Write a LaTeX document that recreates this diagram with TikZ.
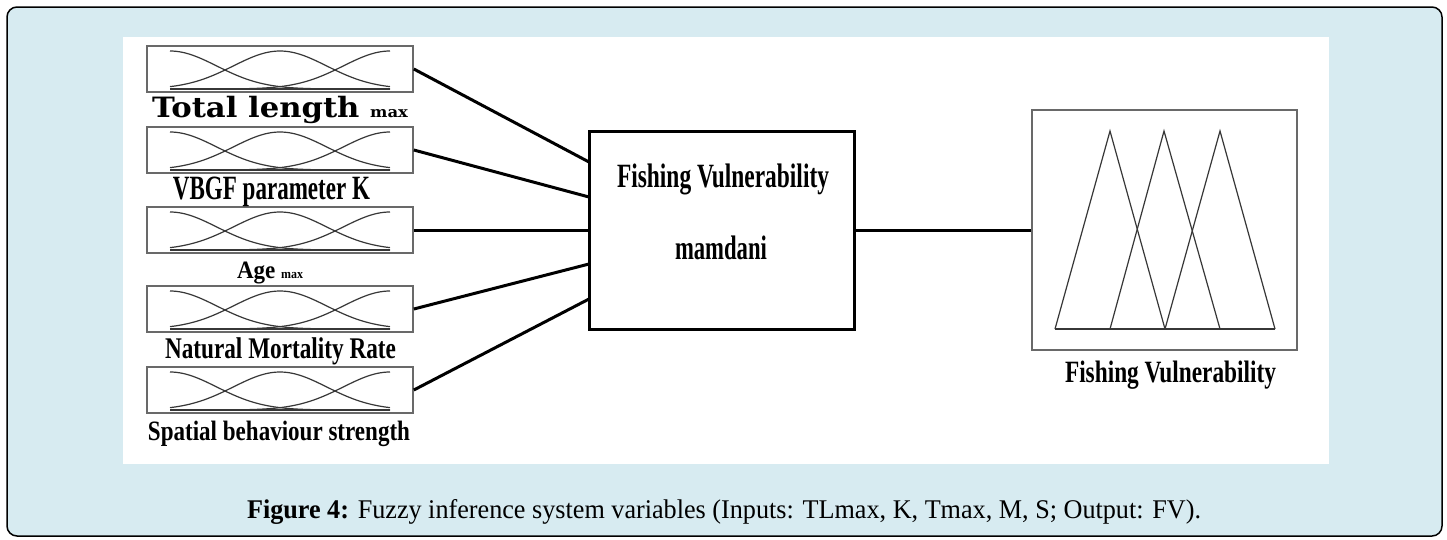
\documentclass[tikz,border=0pt]{standalone}
\usepackage{fontspec}
\setmainfont{Liberation Serif}
\newfontfamily\dvsf{DejaVu Serif}
\usetikzlibrary{calc}
\definecolor{bgblue}{RGB}{215,235,241}
\definecolor{boxgray}{RGB}{105,105,105}
\definecolor{mfgray}{RGB}{55,55,55}
\newcommand\fw[3]{\resizebox{#1pt}{\height}{\fontsize{#2}{#2}\selectfont #3}}
\begin{document}
\begin{tikzpicture}[x=1pt,y=-1pt,
  inbox/.style={draw=boxgray, line width=1.6pt, minimum width=266pt, minimum height=46pt, inner sep=0pt},
  lbl/.style={anchor=base, inner sep=0pt, font=\bfseries},
  conn/.style={line width=3pt, black},
  mf/.style={draw=mfgray, line width=1.2pt},
  mfbase/.style={draw=mfgray, line width=2.8pt}]
\useasboundingbox (0,0) rectangle (1447,539);
% frame and panel
\draw[fill=bgblue, line width=1.5pt, rounded corners=10pt] (7,7) rectangle (1442,536);
\fill[white] (123,37) rectangle (1329,464);
% input boxes
\foreach \i/\cy in {1/69,2/150,3/230,4/309,5/390}{
  \node[inbox] (in\i) at (280,\cy) {};
  \draw[mf, domain=170:390, samples=70] plot (\x, {\cy+20-38*exp(-0.5*((\x-170)/46.7)*((\x-170)/46.7))});
  \draw[mf, domain=170:390, samples=70] plot (\x, {\cy+20-38*exp(-0.5*((\x-280)/46.7)*((\x-280)/46.7))});
  \draw[mf, domain=170:390, samples=70] plot (\x, {\cy+20-38*exp(-0.5*((\x-390)/46.7)*((\x-390)/46.7))});
  \draw[mfbase] (170,\cy+20) -- (390,\cy+20);
}
% input labels
\node[lbl] (l1) at (280,117) {\fw{256}{28}{\dvsf\bfseries Total length\ {\fontsize{15}{15}\selectfont max}}};
\node[lbl] (l2) at (271.5,199) {\fw{197}{34}{VBGF parameter K}};
\node[lbl] (l3) at (270,278) {\fw{66}{25}{Age {\fontsize{13}{13}\selectfont max}}};
\node[lbl] (l4) at (280.5,358) {\fw{231}{30}{Natural Mortality Rate}};
\node[lbl] (l5) at (279,440) {\fw{262}{28}{Spatial behaviour strength}};
% central box
\node[draw, line width=3pt, minimum width=265pt, minimum height=198pt, inner sep=0pt] (fis) at (721.5,230) {};
\node[lbl] (fist) at (723,187) {\fw{212}{34}{Fishing Vulnerability}};
\node[lbl] (mam) at (721,259) {\fw{92}{34}{mamdani}};
% connectors
\coordinate (f1) at (589,162);
\coordinate (f2) at (589,197);
\coordinate (f3) at (589,230);
\coordinate (f4) at (589,264);
\coordinate (f5) at (589,299);
\foreach \i in {1,...,5}{ \draw[conn] (in\i.east) -- (f\i); }
% output box
\node[draw=boxgray, line width=1.6pt, minimum width=265pt, minimum height=240pt, inner sep=0pt] (out) at (1164.5,230) {};
\draw[conn] (fis.east) -- (out.west);
\draw[mf] (1055,329) -- (1110,131) -- (1165,329);
\draw[mf] (1110,329) -- (1164,131) -- (1220,329);
\draw[mf] (1165,329) -- (1220,131) -- (1275,329);
\draw[mf, line width=1.6pt] (1055,329) -- (1275,329);
\node[lbl] (outl) at (1170.5,382) {\fw{211}{31}{Fishing Vulnerability}};
% caption
\node[anchor=base, inner sep=0pt] (cap) at (724,518) {\fw{954}{27}{\textbf{Figure 4:} Fuzzy inference system variables (Inputs: TLmax, K, Tmax, M, S; Output: FV).}};
\end{tikzpicture}
\end{document}
